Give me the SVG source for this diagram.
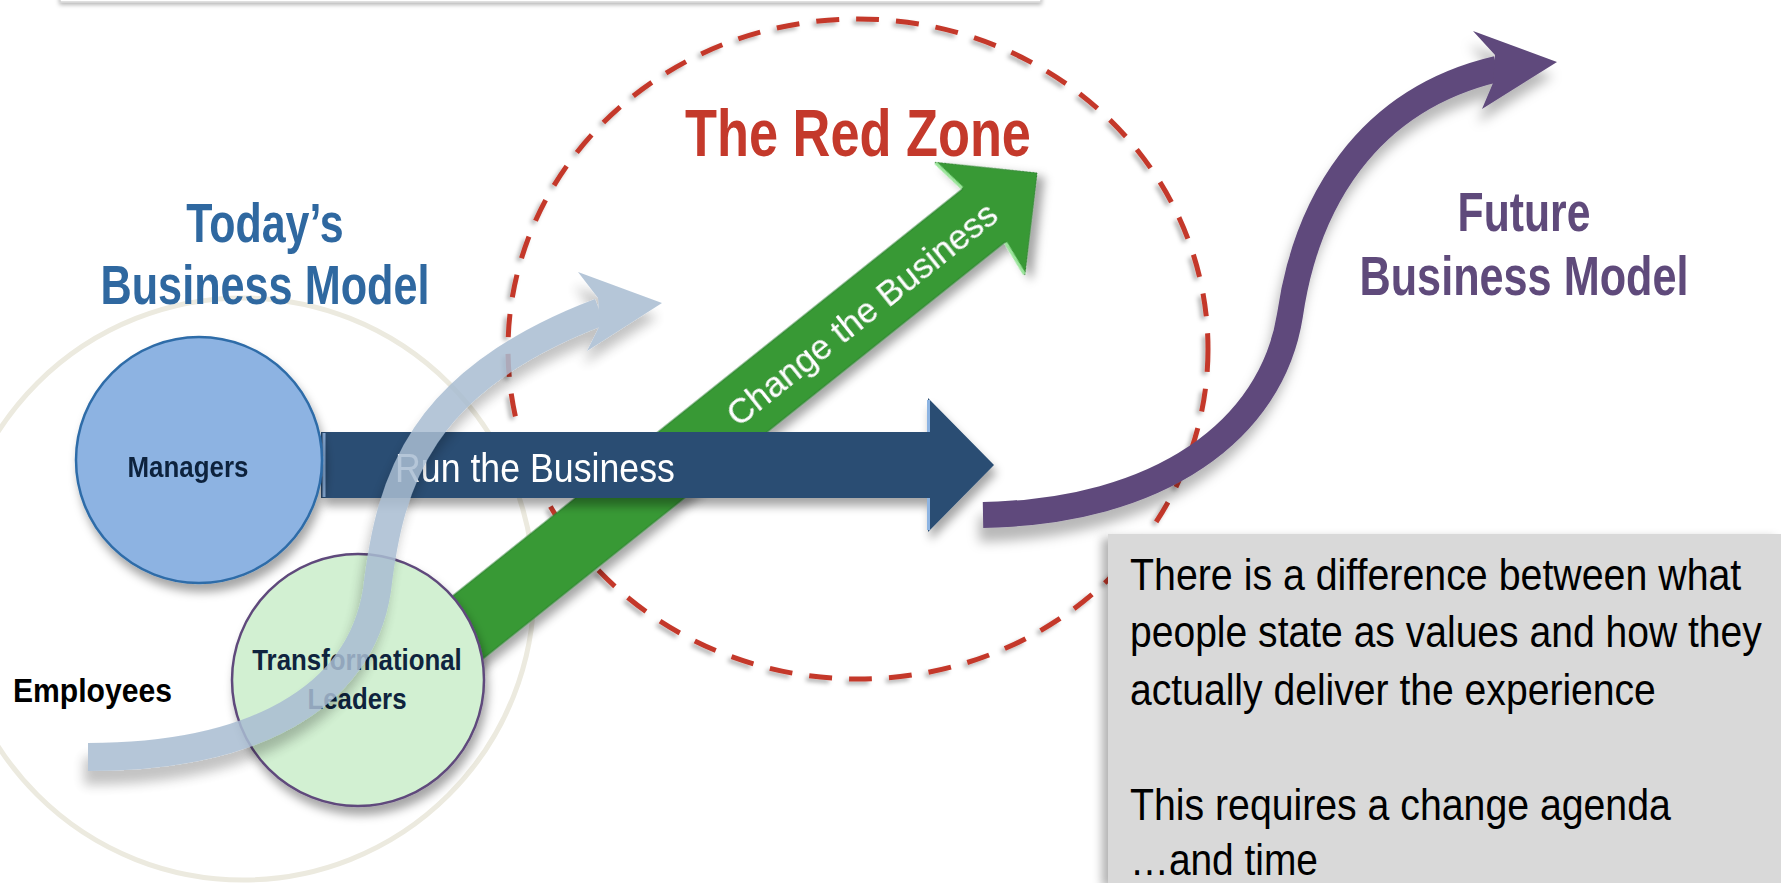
<svg xmlns="http://www.w3.org/2000/svg" width="1781" height="883" viewBox="0 0 1781 883">
<defs>
<style>
.narrowB{font-family:"Liberation Sans",Arial,sans-serif;font-weight:bold;}
.narrow{font-family:"Liberation Sans",Arial,sans-serif;}
.reg{font-family:"Liberation Sans",Arial,sans-serif;}
.node{fill:#0F243E;}
.note{fill:#000;}
</style>
<filter id="ds" x="-30%" y="-30%" width="160%" height="170%"><feDropShadow dx="3" dy="8" stdDeviation="5" flood-color="#000" flood-opacity="0.35"/></filter>
<filter id="dsLong" x="-20%" y="-20%" width="150%" height="160%"><feDropShadow dx="-4" dy="14" stdDeviation="6" flood-color="#000" flood-opacity="0.28"/></filter>
<filter id="dsDash" x="-10%" y="-10%" width="120%" height="120%"><feDropShadow dx="-3" dy="3" stdDeviation="2" flood-color="#000" flood-opacity="0.3"/></filter>
<filter id="dsBox" x="-10%" y="-10%" width="120%" height="120%"><feDropShadow dx="-6" dy="4" stdDeviation="5" flood-color="#000" flood-opacity="0.3"/></filter>
<filter id="dsTop" x="-5%" y="-100%" width="110%" height="400%"><feDropShadow dx="0" dy="2" stdDeviation="2" flood-color="#000" flood-opacity="0.3"/></filter>
</defs>
<rect width="1781" height="883" fill="#ffffff"/>

<g id="top-box"><rect x="60" y="-20" width="981" height="22" fill="#ffffff" stroke="#d5d5d5" stroke-width="1.5" filter="url(#dsTop)"/></g>

<g id="today-ring"><circle cx="243" cy="589" r="291" fill="none" stroke="#ECEADF" stroke-width="5"/></g>

<g id="red-zone"><ellipse cx="858" cy="349" rx="350" ry="330" fill="none" stroke="#C4392B" stroke-width="5" stroke-dasharray="23 17" filter="url(#dsDash)"/>
<text class="narrowB" transform="translate(858,156) scale(0.793,1)" text-anchor="middle" font-size="66" fill="#C4392B">The Red Zone</text></g>

<g id="today-label" fill="#2F68A0">
<text class="narrowB" transform="translate(265,242) scale(0.766,1)" text-anchor="middle" font-size="56">Today’s</text>
<text class="narrowB" transform="translate(265,304) scale(0.772,1)" text-anchor="middle" font-size="56">Business Model</text>
</g>

<g id="future-label" fill="#5F4A7B">
<text class="narrowB" transform="translate(1524,231) scale(0.763,1)" text-anchor="middle" font-size="56">Future</text>
<text class="narrowB" transform="translate(1524,295) scale(0.772,1)" text-anchor="middle" font-size="56">Business Model</text>
</g>

<g id="connectors">
<g id="change-arrow" transform="translate(1037,173) rotate(-38.6)" filter="url(#ds)">
<polygon points="0,0 -73,-72 -68,-34 -830,-34 -830,34 -68,34 -73,72" fill="#379936" stroke="#2E8030" stroke-width="1"/>
<line x1="-73" y1="-71" x2="-68" y2="-35" stroke="#9BE59B" stroke-width="3"/>
<line x1="-73" y1="71" x2="-68" y2="35" stroke="#9BE59B" stroke-width="3"/>
<text class="reg" transform="translate(-225,13) scale(0.98,1)" text-anchor="middle" font-size="36" fill="#ffffff">Change the Business</text>
</g>
<g id="run-arrow" filter="url(#ds)">
<polygon points="321,432 928,432 928,398 994,465 928,532 928,498 321,498" fill="#2A4D73"/>
<line x1="928.5" y1="400" x2="928.5" y2="432" stroke="#8DB4E2" stroke-width="3"/>
<line x1="928.5" y1="498" x2="928.5" y2="530" stroke="#8DB4E2" stroke-width="3"/>
<line x1="324" y1="433" x2="324" y2="497" stroke="#8DB4E2" stroke-width="3"/>
<text class="narrow" transform="translate(395,482) scale(0.871,1)" font-size="41" fill="#ffffff">Run the Business</text>
</g>
<g id="future-arrow" filter="url(#dsLong)">
<path d="M 983 515 C 1160 512, 1272 430, 1290 315 C 1306 205, 1365 100, 1497 69" fill="none" stroke="#5F4A7B" stroke-width="26"/>
<polygon points="1557,62 1473,31 1495,55 1493,83 1482,109" fill="#5F4A7B"/>
</g>
</g>

<g id="managers" filter="url(#ds)">
<circle cx="199" cy="460" r="123" fill="#8DB3E2" stroke="#2F6CA8" stroke-width="2.5"/>
<text class="narrowB node" transform="translate(188,477) scale(0.864,1)" text-anchor="middle" font-size="30">Managers</text>
</g>

<g id="transformational-leaders">
<circle cx="358" cy="680" r="126" fill="#D2F0D2" stroke="#5F4A7B" stroke-width="2.5" filter="url(#ds)"/>
<text class="narrowB node" transform="translate(357,670) scale(0.861,1)" text-anchor="middle" font-size="30">Transformational</text>
<text class="narrowB node" transform="translate(357,709) scale(0.861,1)" text-anchor="middle" font-size="30">Leaders</text>
</g>

<g id="employees-label">
<text class="narrowB" transform="translate(13,702) scale(0.886,1)" font-size="34" fill="#000">Employees</text>
</g>

<g id="note">
<rect x="1108" y="534" width="673" height="349" fill="#D9D9D9" filter="url(#dsBox)"/>
<text class="narrow note" transform="translate(1130,590) scale(0.874,1)" font-size="45">There is a difference between what</text>
<text class="narrow note" transform="translate(1130,647) scale(0.868,1)" font-size="45">people state as values and how they</text>
<text class="narrow note" transform="translate(1130,705) scale(0.869,1)" font-size="45">actually deliver the experience</text>
<text class="narrow note" transform="translate(1130,820) scale(0.872,1)" font-size="45">This requires a change agenda</text>
<text class="narrow note" transform="translate(1130,875) scale(0.864,1)" font-size="45">…and time</text>
</g>

<g id="employees-arrow" opacity="0.85" filter="url(#dsLong)">
<path d="M 88 757 C 250 757, 360 700, 377 590 C 390 480, 420 380, 600 312" fill="none" stroke="#A9BDD2" stroke-width="28"/>
<polygon points="662,303 578,272 598,298 600,325 587,351" fill="#A9BDD2"/>
</g>
</svg>
